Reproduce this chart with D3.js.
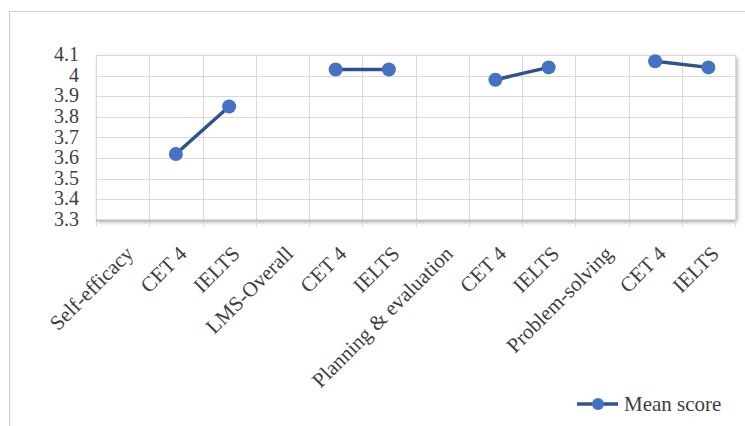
<!DOCTYPE html>
<html><head><meta charset="utf-8">
<script src="https://cdn.jsdelivr.net/npm/d3@7/dist/d3.min.js"></script>
<style>body{margin:0;background:#fff}svg{display:block}</style>
</head><body>
<script>
const categories = ["Self-efficacy","CET 4","IELTS","LMS-Overall","CET 4","IELTS","Planning & evaluation","CET 4","IELTS","Problem-solving","CET 4","IELTS"];
const meanScore = [null,3.62,3.85,null,4.03,4.03,null,3.98,4.04,null,4.07,4.04];
const yTicks = [3.3,3.4,3.5,3.6,3.7,3.8,3.9,4,4.1];
const seriesName = "Mean score";

const W=745,H=426;
const FONT="'Liberation Serif','Times New Roman',serif";
const svg=d3.select("body").append("svg").attr("width",W).attr("height",H);
const defs=svg.append("defs");
const f=defs.append("filter").attr("id","sh").attr("x","-5%").attr("y","-5%").attr("width","115%").attr("height","115%");
f.append("feGaussianBlur").attr("in","SourceAlpha").attr("stdDeviation",2);
f.append("feOffset").attr("dx",2).attr("dy",2).attr("result","b");
f.append("feComponentTransfer").append("feFuncA").attr("type","linear").attr("slope",0.35);
const m=f.append("feMerge");m.append("feMergeNode");m.append("feMergeNode").attr("in","SourceGraphic");

// frame
svg.append("rect").attr("x",9.5).attr("y",11.5).attr("width",W).attr("height",H).attr("fill","#fff").attr("stroke","#d0d0d0").attr("stroke-width",1);

const L=96,R=735,T=55,B=220;
const x=d3.scaleBand().domain(d3.range(categories.length)).range([L,R]);
const y=d3.scaleLinear().domain([3.3,4.1]).range([B,T]);

svg.append("rect").attr("x",L).attr("y",T).attr("width",R-L).attr("height",B-T).attr("fill","#fff").attr("filter","url(#sh)");

const g=svg.append("g");
g.selectAll(".hg").data(yTicks).join("line").attr("x1",L).attr("x2",R)
 .attr("y1",d=>Math.round(y(d))+0.5).attr("y2",d=>Math.round(y(d))+0.5).attr("stroke","#d9d9d9").attr("stroke-width",1);
const bounds=d3.range(categories.length+1).map(i=>L+i*x.step());
g.selectAll(".vg").data(bounds).join("line").attr("x1",d=>Math.round(d)+0.5).attr("x2",d=>Math.round(d)+0.5)
 .attr("y1",T).attr("y2",B+7).attr("stroke","#d9d9d9").attr("stroke-width",1);
g.append("line").attr("x1",L).attr("x2",R).attr("y1",B+0.5).attr("y2",B+0.5).attr("stroke","#bfbfbf").attr("stroke-width",2);

// y labels
svg.append("g").selectAll("text").data(yTicks).join("text")
 .attr("x",79).attr("y",d=>y(d)+6).attr("text-anchor","end")
 .attr("font-family",FONT).attr("font-size",20).attr("fill","#404040")
 .text(d=>d3.format("~g")(d));

// x labels
svg.append("g").selectAll("text").data(categories).join("text")
 .attr("transform",(d,i)=>`translate(${x(i)+x.bandwidth()/2+12},${B+35}) rotate(-45)`)
 .attr("text-anchor","end")
 .attr("font-family",FONT).attr("font-size",21).attr("fill","#404040")
 .text(d=>d);

// line
const pts=meanScore.map((v,i)=>({i,v}));
const line=d3.line().defined(d=>d.v!=null).x(d=>x(d.i)+x.bandwidth()/2).y(d=>y(d.v));
svg.append("path").datum(pts).attr("d",line).attr("fill","none").attr("stroke","#2f528f").attr("stroke-width",3.5);
svg.append("g").selectAll("circle").data(pts.filter(d=>d.v!=null)).join("circle")
 .attr("cx",d=>x(d.i)+x.bandwidth()/2).attr("cy",d=>y(d.v)).attr("r",7).attr("fill","#4472c4");

// legend
const lg=svg.append("g");
lg.append("line").attr("x1",577).attr("x2",618).attr("y1",404).attr("y2",404).attr("stroke","#2f528f").attr("stroke-width",3.5);
lg.append("circle").attr("cx",598).attr("cy",404).attr("r",6).attr("fill","#4472c4");
lg.append("text").attr("x",624).attr("y",411).attr("font-family",FONT).attr("font-size",21).attr("fill","#404040").text(seriesName);
</script>
</body></html>
